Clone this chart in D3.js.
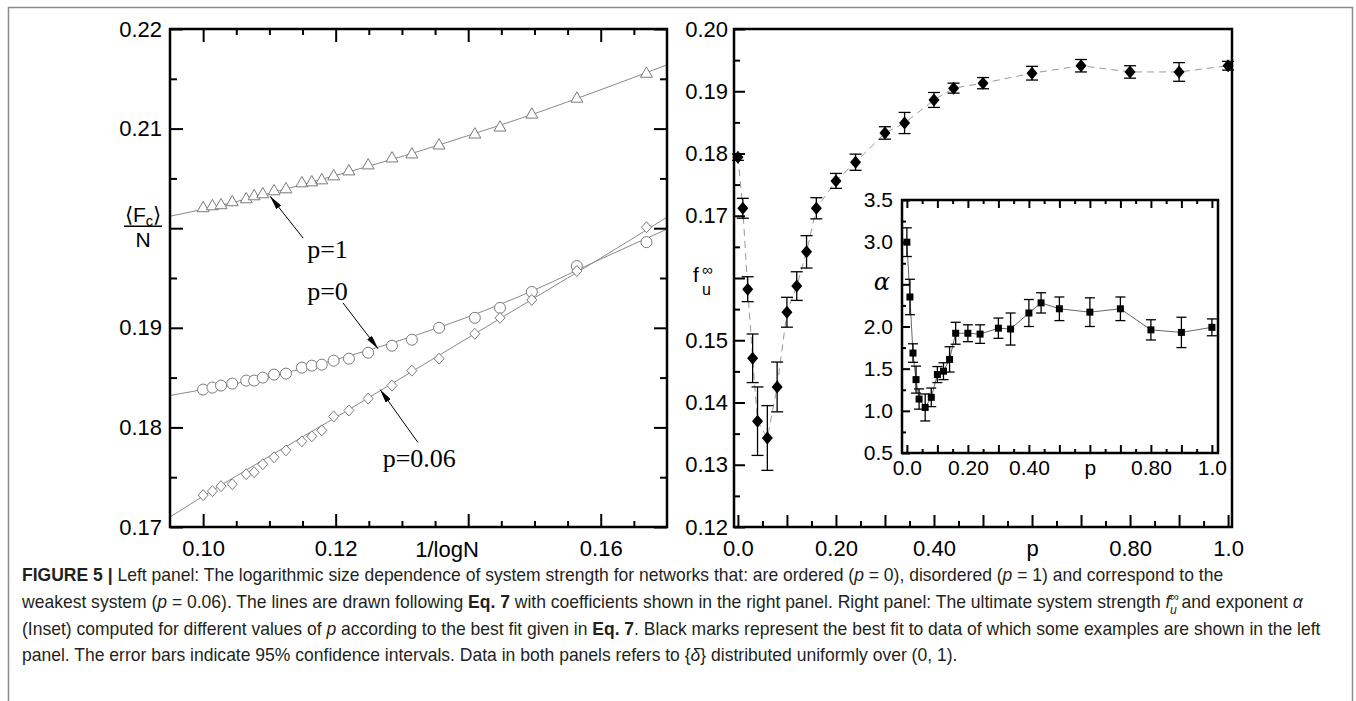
<!DOCTYPE html>
<html>
<head>
<meta charset="utf-8">
<script src="https://cdn.jsdelivr.net/npm/d3@7"></script>
<style>
  body { margin: 0; background: #fff; }
  svg text { font-family: "Liberation Sans", Arial, sans-serif; }
</style>
</head>
<body>
<script>
// ---------- left panel: <Fc>/N against 1/logN ----------
const invLogN = [0.1000, 0.1014, 0.1027, 0.1044, 0.1065, 0.1077, 0.1090, 0.1107, 0.1125, 0.1149, 0.1164, 0.1179,
                 0.1197, 0.1220, 0.1249, 0.1285, 0.1315, 0.1356, 0.1410, 0.1448, 0.1496, 0.1564, 0.1669];
const fcDisordered = [0.2020, 0.2022, 0.2023, 0.2026, 0.2029, 0.2032, 0.2034, 0.2037, 0.2039, 0.2045, 0.2046, 0.2048,
                      0.2052, 0.2057, 0.2063, 0.2070, 0.2074, 0.2083, 0.2094, 0.2101, 0.2114, 0.2130, 0.2155]; // p = 1
const fcOrdered = [0.1838, 0.1840, 0.1842, 0.1844, 0.1847, 0.1847, 0.1850, 0.1853, 0.1854, 0.1860, 0.1862, 0.1863,
                   0.1867, 0.1869, 0.1875, 0.1882, 0.1888, 0.1900, 0.1910, 0.1920, 0.1936, 0.1962, 0.1986];    // p = 0
const fcWeakest = [0.1732, 0.1736, 0.1741, 0.1743, 0.1753, 0.1755, 0.1763, 0.1770, 0.1777, 0.1786, 0.1791, 0.1797,
                   0.1811, 0.1817, 0.1829, 0.1842, 0.1857, 0.1869, 0.1894, 0.1910, 0.1928, 0.1957, 0.2001];    // p = 0.06

// fitted curves (Eq. 7)
const fitX = [0.095, 0.10, 0.11, 0.12, 0.13, 0.14, 0.15, 0.16, 0.17];
const fitDisordered = [0.2012, 0.2019, 0.2035, 0.2053, 0.2072, 0.2093, 0.2115, 0.2139, 0.2164];
const fitOrdered = [0.1832, 0.1838, 0.1851, 0.1868, 0.1888, 0.1911, 0.1938, 0.1969, 0.1999];
const fitWeakest = [0.1710, 0.1731, 0.1771, 0.1810, 0.1850, 0.1890, 0.1930, 0.1970, 0.2011];

const leftXMajor = [0.10, 0.12, 0.14, 0.16];
const leftXLabels = ["0.10", "0.12", "", "0.16"];
const leftYMajor = [0.17, 0.18, 0.19, 0.20, 0.21, 0.22];
const leftYLabels = ["0.17", "0.18", "0.19", "", "0.21", "0.22"];

// ---------- right panel: f_u^inf and alpha against p ----------
const pValues = [0, 0.01, 0.02, 0.03, 0.04, 0.06, 0.08, 0.10, 0.12, 0.14, 0.16, 0.20,
                 0.24, 0.30, 0.34, 0.40, 0.44, 0.50, 0.60, 0.70, 0.80, 0.90, 1.0];
const fInf = [0.1794, 0.1712, 0.1582, 0.1471, 0.1370, 0.1343, 0.1425, 0.1545, 0.1587, 0.1642, 0.1712, 0.1756,
              0.1786, 0.1833, 0.1849, 0.1886, 0.1905, 0.1913, 0.1929, 0.1941, 0.1931, 0.1931, 0.1941];
const fInfErr = [0.0005, 0.0016, 0.0020, 0.0039, 0.0055, 0.0052, 0.0040, 0.0024, 0.0023, 0.0026, 0.0017, 0.0012,
                 0.0013, 0.0010, 0.0017, 0.0012, 0.0008, 0.0009, 0.0011, 0.0010, 0.0010, 0.0015, 0.0007];
const alpha = [3.00, 2.35, 1.685, 1.37, 1.14, 1.04, 1.16, 1.43, 1.47, 1.61, 1.92, 1.92,
               1.91, 1.98, 1.97, 2.16, 2.28, 2.21, 2.17, 2.21, 1.96, 1.93, 1.99];
const alphaErr = [0.17, 0.21, 0.11, 0.16, 0.12, 0.16, 0.11, 0.095, 0.10, 0.15, 0.13, 0.10,
                  0.11, 0.12, 0.19, 0.16, 0.12, 0.14, 0.17, 0.14, 0.12, 0.18, 0.10];

const rightXMajor = [0, 0.1, 0.2, 0.3, 0.4, 0.5, 0.6, 0.7, 0.8, 0.9, 1.0];
const rightXLabels = ["0.0", "", "0.20", "", "0.40", "", "p", "", "0.80", "", "1.0"];
const rightYMajor = [0.12, 0.13, 0.14, 0.15, 0.16, 0.17, 0.18, 0.19, 0.20];
const rightYLabels = ["0.12", "0.13", "0.14", "0.15", "", "0.17", "0.18", "0.19", "0.20"];
const insetYMajor = [0.5, 1.0, 1.5, 2.0, 2.5, 3.0, 3.5];
const insetYLabels = ["0.5", "1.0", "1.5", "2.0", "", "3.0", "3.5"];

// ---------- caption ----------
const captionLines = [
  [["b", "FIGURE 5 | "], ["r", "Left panel: The logarithmic size dependence of system strength for networks that: are ordered ("],
   ["i", "p"], ["r", " = 0), disordered ("], ["i", "p"], ["r", " = 1) and correspond to the"]],
  [["r", "weakest system ("], ["i", "p"], ["r", " = 0.06). The lines are drawn following "], ["b", "Eq. 7"],
   ["r", " with coefficients shown in the right panel. Right panel: The ultimate system strength "], ["i", "f"],
   ["sup", "\u221e"], ["sub", "u"], ["back", " and exponent "], ["i", "\u03b1"]],
  [["r", "(Inset) computed for different values of "], ["i", "p"], ["r", " according to the best fit given in "], ["b", "Eq. 7"],
   ["r", ". Black marks represent the best fit to data of which some examples are shown in the left"]],
  [["r", "panel. The error bars indicate 95% confidence intervals. Data in both panels refers to {"], ["i", "\u03b4"],
   ["r", "} distributed uniformly over  (0, 1)."]]
];

const svg = d3.select("body").append("svg").attr("width", 1356).attr("height", 701);

svg.append("defs").append("marker")
  .attr("id", "arrow").attr("viewBox", "0 0 14 6").attr("refX", 14).attr("refY", 3)
  .attr("markerWidth", 14).attr("markerHeight", 6).attr("markerUnits", "userSpaceOnUse").attr("orient", "auto")
  .append("path").attr("d", "M0,0 L14,3 L0,6 Z").attr("fill", "#000");

// outer figure frame
svg.append("rect").attr("x", 8.5).attr("y", 7.5).attr("width", 1344).attr("height", 730)
  .attr("fill", "none").attr("stroke", "#8c8c8c").attr("stroke-width", 1.5);

function steps(a, b, step) {
  const n = Math.round((b - a) / step);
  return d3.range(n + 1).map(i => +(a + i * step).toFixed(4));
}

function addTicks(g, axisGen, scale, values, len, labels, translate, pad, size) {
  const ax = axisGen(scale).tickValues(values).tickSize(-len).tickPadding(pad || 8)
    .tickFormat((d, i) => labels ? labels[i] : "");
  const a = g.append("g").attr("transform", translate || null).call(ax);
  a.attr("font-family", null).attr("font-size", null);
  a.select(".domain").remove();
  a.selectAll(".tick line").attr("stroke", "#000").attr("stroke-width", 2);
  a.selectAll(".tick text").attr("fill", "#000").style("font-size", (size || 22) + "px");
  return a;
}

function diamond(w, h) {
  return d3.symbol().type({
    draw(ctx) { ctx.moveTo(0, -h); ctx.lineTo(w, 0); ctx.lineTo(0, h); ctx.lineTo(-w, 0); ctx.closePath(); }
  })();
}

// ================= LEFT PANEL =================
const L = { left: 170, right: 667, top: 29, bottom: 527 };
const xL = d3.scaleLinear().domain([0.095, 0.17]).range([L.left, L.right]);
const yL = d3.scaleLinear().domain([0.17, 0.22]).range([L.bottom, L.top]);
const gL = svg.append("g");

const fitLine = d3.line().x(d => xL(d[0])).y(d => yL(d[1])).curve(d3.curveMonotoneX);
[fitDisordered, fitOrdered, fitWeakest].forEach(fit => {
  gL.append("path").attr("d", fitLine(fitX.map((x, i) => [x, fit[i]])))
    .attr("fill", "none").attr("stroke", "#8a8a8a").attr("stroke-width", 1);
});

const markerStroke = "#7a7a7a";
gL.append("g").selectAll("path").data(invLogN).join("path")
  .attr("d", d3.symbol(d3.symbolTriangle, 62))
  .attr("transform", (d, i) => `translate(${xL(d)},${yL(fcDisordered[i])})`)
  .attr("fill", "#fff").attr("stroke", markerStroke).attr("stroke-width", 1);
gL.append("g").selectAll("circle").data(invLogN).join("circle")
  .attr("cx", d => xL(d)).attr("cy", (d, i) => yL(fcOrdered[i])).attr("r", 5.5)
  .attr("fill", "#fff").attr("stroke", markerStroke).attr("stroke-width", 1);
gL.append("g").selectAll("path").data(invLogN).join("path")
  .attr("d", diamond(5, 5.5))
  .attr("transform", (d, i) => `translate(${xL(d)},${yL(fcWeakest[i])})`)
  .attr("fill", "#fff").attr("stroke", markerStroke).attr("stroke-width", 1);

// ticks on all four sides, pointing inward
const leftXMinor = steps(0.10, 0.165, 0.005).filter(v => !leftXMajor.some(m => Math.abs(m - v) < 1e-6));
const leftYMinor = steps(0.175, 0.215, 0.01);
addTicks(gL, d3.axisBottom, xL, leftXMajor, 13, leftXLabels, `translate(0,${L.bottom})`, 13);
addTicks(gL, d3.axisBottom, xL, leftXMinor, 6, null, `translate(0,${L.bottom})`);
addTicks(gL, d3.axisTop, xL, leftXMajor, 13, null, `translate(0,${L.top})`);
addTicks(gL, d3.axisTop, xL, leftXMinor, 6, null, `translate(0,${L.top})`);
addTicks(gL, d3.axisLeft, yL, leftYMajor, 13, leftYLabels, `translate(${L.left},0)`, 8);
addTicks(gL, d3.axisLeft, yL, leftYMinor, 7, null, `translate(${L.left},0)`);
addTicks(gL, d3.axisRight, yL, leftYMajor, 13, null, `translate(${L.right},0)`);
addTicks(gL, d3.axisRight, yL, leftYMinor, 7, null, `translate(${L.right},0)`);

gL.append("rect").attr("x", L.left).attr("y", L.top).attr("width", L.right - L.left).attr("height", L.bottom - L.top)
  .attr("fill", "none").attr("stroke", "#000").attr("stroke-width", 2.5);

// axis titles
gL.append("text").attr("x", 447).attr("y", L.bottom + 30).attr("text-anchor", "middle").style("font-size", "22px")
  .text("1/logN");
const frac = gL.append("g").attr("transform", `translate(143,${yL(0.20)})`);
const num = frac.append("text").attr("text-anchor", "middle").attr("y", -6).style("font-size", "21px");
num.append("tspan").text("\u27e8F");
num.append("tspan").attr("font-size", "70%").attr("dy", 4).text("c");
num.append("tspan").attr("dy", -4).text("\u27e9");
frac.append("line").attr("x1", -19).attr("x2", 19).attr("y1", -2).attr("y2", -2).attr("stroke", "#000").attr("stroke-width", 1.5);
frac.append("text").attr("text-anchor", "middle").attr("y", 19).style("font-size", "21px").text("N");

// annotations
const annotations = [
  { label: "p=1", tx: 0.1157, ty: 0.1970, x1: 0.1151, y1: 0.1990, x2: 0.1101, y2: 0.2032 },
  { label: "p=0", tx: 0.1157, ty: 0.1928, x1: 0.1211, y1: 0.1925, x2: 0.1264, y2: 0.1879 },
  { label: "p=0.06", tx: 0.1271, ty: 0.1760, x1: 0.1324, y1: 0.1785, x2: 0.1267, y2: 0.1838 }
];
annotations.forEach(a => {
  gL.append("line").attr("x1", xL(a.x1)).attr("y1", yL(a.y1)).attr("x2", xL(a.x2)).attr("y2", yL(a.y2))
    .attr("stroke", "#000").attr("stroke-width", 1).attr("marker-end", "url(#arrow)");
  gL.append("text").attr("x", xL(a.tx)).attr("y", yL(a.ty))
    .style("font-family", "'Liberation Serif', 'Times New Roman', serif").style("font-size", "26px").text(a.label);
});

// ================= RIGHT PANEL =================
const R = { left: 734, right: 1232, top: 29, bottom: 527 };
const xR = d3.scaleLinear().domain([-0.008, 1.008]).range([R.left, R.right]);
const yR = d3.scaleLinear().domain([0.12, 0.20]).range([R.bottom, R.top]);
const gR = svg.append("g");

gR.append("path")
  .attr("d", d3.line().x(d => xR(d)).y((d, i) => yR(fInf[i]))(pValues))
  .attr("fill", "none").attr("stroke", "#9a9a9a").attr("stroke-width", 1).attr("stroke-dasharray", "7,5");

const errR = gR.append("g").attr("stroke", "#000").attr("stroke-width", 1.3);
pValues.forEach((p, i) => {
  const x = xR(p), y1 = yR(fInf[i] - fInfErr[i]), y2 = yR(fInf[i] + fInfErr[i]);
  errR.append("line").attr("x1", x).attr("x2", x).attr("y1", y1).attr("y2", y2);
  errR.append("line").attr("x1", x - 6).attr("x2", x + 6).attr("y1", y1).attr("y2", y1);
  errR.append("line").attr("x1", x - 6).attr("x2", x + 6).attr("y1", y2).attr("y2", y2);
});
gR.append("g").selectAll("path").data(pValues).join("path")
  .attr("d", diamond(5.5, 6.5))
  .attr("transform", (d, i) => `translate(${xR(d)},${yR(fInf[i])})`)
  .attr("fill", "#000");

const rightXMinor = steps(0.05, 0.95, 0.1);
const rightYMinor = steps(0.125, 0.195, 0.01);
addTicks(gR, d3.axisBottom, xR, rightXMajor, 12, rightXLabels, `translate(0,${R.bottom})`, 13);
addTicks(gR, d3.axisBottom, xR, rightXMinor, 6, null, `translate(0,${R.bottom})`);
addTicks(gR, d3.axisLeft, yR, rightYMajor, 11, rightYLabels, `translate(${R.left},0)`, 6);
addTicks(gR, d3.axisLeft, yR, rightYMinor, 6, null, `translate(${R.left},0)`);

gR.append("rect").attr("x", R.left).attr("y", R.top).attr("width", R.right - R.left).attr("height", R.bottom - R.top)
  .attr("fill", "none").attr("stroke", "#000").attr("stroke-width", 2.5);

const fl = gR.append("g").attr("transform", `translate(693,${yR(0.16)})`);
fl.append("text").attr("x", 0).attr("y", 4).style("font-size", "21px").text("f");
fl.append("text").attr("x", 9).attr("y", -3).style("font-size", "15px").text("\u221e");
fl.append("text").attr("x", 9).attr("y", 17).style("font-size", "16px").text("u");

// ---------- inset ----------
const I = { left: 902, right: 1218, top: 200, bottom: 453 };
const xI = d3.scaleLinear().domain([-0.016, 1.02]).range([I.left, I.right]);
const yI = d3.scaleLinear().domain([0.5, 3.5]).range([I.bottom, I.top]);
const gI = svg.append("g");

gI.append("rect").attr("x", I.left).attr("y", I.top).attr("width", I.right - I.left).attr("height", I.bottom - I.top)
  .attr("fill", "#fff");
gI.append("path")
  .attr("d", d3.line().x(d => xI(d)).y((d, i) => yI(alpha[i]))(pValues))
  .attr("fill", "none").attr("stroke", "#666").attr("stroke-width", 1);
const errI = gI.append("g").attr("stroke", "#000").attr("stroke-width", 1.3);
pValues.forEach((p, i) => {
  const x = xI(p), y1 = yI(alpha[i] - alphaErr[i]), y2 = yI(alpha[i] + alphaErr[i]);
  errI.append("line").attr("x1", x).attr("x2", x).attr("y1", y1).attr("y2", y2);
  errI.append("line").attr("x1", x - 5).attr("x2", x + 5).attr("y1", y1).attr("y2", y1);
  errI.append("line").attr("x1", x - 5).attr("x2", x + 5).attr("y1", y2).attr("y2", y2);
});
gI.append("g").selectAll("rect").data(pValues).join("rect")
  .attr("x", d => xI(d) - 3.5).attr("y", (d, i) => yI(alpha[i]) - 3.5)
  .attr("width", 7).attr("height", 7).attr("fill", "#000");

const insetYMinor = steps(0.75, 3.25, 0.5);
addTicks(gI, d3.axisBottom, xI, rightXMajor, 8, rightXLabels, `translate(0,${I.bottom})`, 7, 21);
addTicks(gI, d3.axisBottom, xI, rightXMinor, 4, null, `translate(0,${I.bottom})`);
addTicks(gI, d3.axisTop, xI, rightXMajor, 8, null, `translate(0,${I.top})`);
addTicks(gI, d3.axisTop, xI, rightXMinor, 4, null, `translate(0,${I.top})`);
addTicks(gI, d3.axisLeft, yI, insetYMajor, 8, insetYLabels, `translate(${I.left},0)`, 9, 21);
addTicks(gI, d3.axisLeft, yI, insetYMinor, 4, null, `translate(${I.left},0)`);

gI.append("rect").attr("x", I.left).attr("y", I.top).attr("width", I.right - I.left).attr("height", I.bottom - I.top)
  .attr("fill", "none").attr("stroke", "#000").attr("stroke-width", 2.5);
gI.append("text").attr("x", 890).attr("y", yI(2.5) + 6).attr("text-anchor", "end")
  .style("font-family", "'DejaVu Serif', 'Liberation Serif', serif").style("font-style", "italic").style("font-size", "24px")
  .text("\u03b1");

// ================= CAPTION =================
const captionBaselines = [581, 608, 635, 661];
const cap = svg.append("g").attr("fill", "#231f20");
const capTexts = captionLines.map((parts, i) => {
  const t = cap.append("text").attr("x", 22).attr("y", captionBaselines[i]).style("font-size", "16px");
  parts.forEach(([kind, str]) => {
    const s = t.append("tspan").text(str);
    if (kind === "b") s.attr("font-weight", "bold");
    if (kind === "i") s.attr("font-style", "italic");
    if (kind === "sup") s.attr("font-size", "70%").attr("dy", "-0.55em");
    if (kind === "sub") s.attr("font-size", "70%").attr("font-style", "italic").attr("dx", "-0.75em").attr("dy", "1em");
    if (kind === "back") s.attr("dy", "-0.315em");
  });
  return t;
});
// fit the longest line to its width in the figure
const w3 = capTexts[2].node().getComputedTextLength();
const capSize = 16 * 1300 / w3;
capTexts.forEach(t => t.style("font-size", capSize + "px"));
</script>
</body>
</html>
